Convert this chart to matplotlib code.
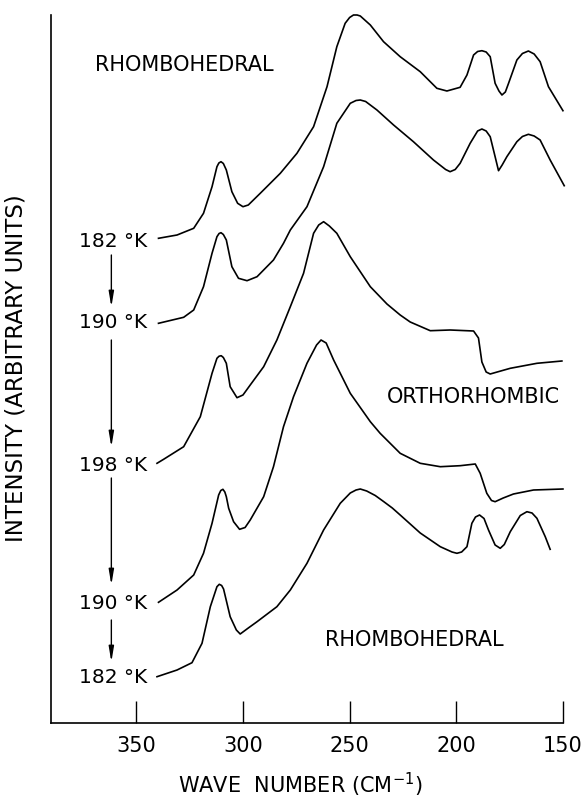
import numpy as np
import matplotlib
matplotlib.use('Agg')
import matplotlib.pyplot as plt

# Wave numbers (cm^-1) and stacked intensities (arbitrary units) for each trace
wn_182_top = [339.6, 330.9, 323.1, 318.5, 314.5, 312.2, 311.3, 310.3, 309.2, 307.8,
              305.2, 302.5, 300.0, 297.5, 291.9, 282.5, 274.7, 266.9, 260.6, 256.0,
              252.1, 250.0, 248.2, 246.5, 245.0, 240.3, 234.1, 226.3, 216.9, 209.1,
              204.4, 198.2, 195.0, 191.9, 190.0, 188.0, 186.0, 184.1, 181.8, 180.0,
              178.6, 177.0, 175.5, 171.6, 169.0, 166.2, 163.5, 160.7, 156.8, 150.0]
int_182_top = [484.7, 488.0, 494.7, 509.7, 536.3, 556.3, 560.0, 561.3, 559.5, 553.0,
               531.3, 519.7, 516.3, 518.0, 529.7, 549.7, 569.7, 596.3, 636.3, 676.3,
               699.7, 705.5, 708.0, 708.0, 707.0, 698.0, 681.3, 666.3, 651.3, 634.7,
               632.0, 635.7, 648.0, 668.0, 671.5, 672.3, 671.0, 666.3, 639.7, 632.0,
               628.0, 631.0, 639.7, 663.0, 669.5, 672.0, 669.0, 661.3, 636.3, 612.3]

wn_190_up = [339.6, 327.8, 323.1, 318.5, 314.5, 312.2, 311.2, 310.3, 309.2, 307.8,
             305.2, 302.1, 298.1, 293.4, 285.7, 281.0, 277.8, 270.0, 262.2, 256.0,
             249.7, 247.0, 245.0, 242.5, 237.2, 229.4, 220.1, 210.7, 205.0, 202.9,
             200.5, 198.2, 193.5, 190.0, 188.0, 186.0, 184.1, 181.8, 180.2, 178.5,
             176.3, 171.6, 169.0, 166.2, 163.5, 160.7, 156.0, 149.4]
int_190_up = [399.7, 405.7, 413.0, 436.3, 469.7, 486.3, 489.5, 490.3, 488.5, 483.0,
              456.3, 444.7, 442.3, 446.3, 463.0, 479.7, 493.0, 516.3, 556.3, 599.7,
              619.7, 622.5, 623.0, 621.5, 613.0, 598.0, 581.3, 563.0, 553.5, 551.3,
              553.5, 559.7, 579.7, 592.0, 594.0, 592.0, 586.3, 566.3, 552.3, 558.0,
              566.3, 581.3, 586.5, 588.7, 587.0, 583.0, 563.0, 537.3]

wn_198 = [340.3, 337.2, 327.8, 320.0, 314.5, 312.2, 311.2, 310.2, 309.2, 307.8,
          306.0, 302.8, 300.0, 296.6, 290.3, 284.1, 277.8, 271.6, 266.9, 264.5,
          262.2, 259.5, 256.0, 249.7, 240.3, 232.5, 226.3, 221.6, 212.2, 202.9,
          191.9, 189.6, 188.0, 186.0, 184.1, 180.0, 174.7, 162.2, 150.5]
int_198 = [259.7, 263.7, 276.3, 306.3, 349.7, 364.7, 366.8, 367.3, 365.5, 359.7,
           336.3, 325.3, 328.0, 338.0, 356.3, 383.0, 416.3, 449.7, 489.7, 498.0,
           501.3, 497.0, 489.7, 466.3, 436.3, 419.0, 408.0, 401.0, 392.3, 393.0,
           392.0, 385.0, 361.0, 351.0, 349.0, 351.5, 354.7, 359.7, 362.0]

wn_190_down = [339.6, 330.9, 323.1, 318.5, 314.5, 311.4, 310.4, 309.4, 308.5, 307.8,
               306.7, 304.4, 301.6, 299.0, 296.6, 290.3, 285.7, 281.0, 276.3, 270.0,
               265.5, 263.4, 261.0, 257.5, 249.7, 240.3, 235.7, 226.3, 216.9, 207.5,
               198.2, 191.1, 188.8, 185.7, 183.5, 181.8, 178.0, 173.2, 163.8, 150.0]
int_190_down = [120.7, 133.0, 148.0, 169.7, 199.7, 228.0, 232.5, 233.7, 231.0, 226.3,
                214.7, 201.3, 193.7, 195.5, 203.0, 226.3, 256.3, 296.3, 326.3, 359.7,
                378.0, 383.0, 380.0, 363.0, 329.7, 301.3, 289.7, 269.7, 259.7, 256.3,
                257.3, 259.0, 249.7, 229.7, 222.5, 221.3, 225.0, 229.0, 233.0, 234.0]

wn_182_down = [340.3, 330.9, 323.9, 319.2, 315.3, 312.2, 311.1, 310.0, 309.1, 306.0,
               303.1, 301.3, 297.5, 293.4, 284.1, 277.8, 270.0, 262.2, 254.4, 249.7,
               247.0, 245.0, 242.0, 238.0, 234.1, 230.0, 226.3, 216.9, 207.5, 202.0,
               199.7, 197.5, 195.0, 192.7, 191.0, 189.1, 187.0, 184.9, 181.8, 179.4,
               177.5, 174.7, 170.0, 166.9, 164.5, 162.2, 158.3, 156.0]
int_182_down = [46.3, 53.0, 60.3, 79.7, 116.3, 136.3, 138.7, 137.5, 134.0, 106.3,
                93.0, 89.0, 95.0, 101.3, 116.3, 133.0, 159.7, 193.0, 219.7, 230.0,
                233.0, 234.0, 232.0, 227.5, 221.5, 215.0, 208.0, 190.0, 176.3, 171.0,
                169.7, 171.0, 176.3, 199.7, 206.0, 208.0, 204.5, 193.0, 178.0, 174.7,
                178.5, 191.3, 207.5, 211.3, 210.0, 204.7, 186.3, 173.7]

traces = [(wn_182_top, int_182_top), (wn_190_up, int_190_up), (wn_198, int_198),
          (wn_190_down, int_190_down), (wn_182_down, int_182_down)]

temp_labels = ['182 °K', '190 °K', '198 °K', '190 °K', '182 °K']
temp_label_y = [481, 400, 258, 120, 46]
# arrows between successive temperatures (start, tip)
arrow_y = [(468, 416), (383, 276), (245, 138), (103, 61)]

fig = plt.figure(figsize=(5.88, 8.02), dpi=100)
ax = fig.add_axes([0.0867, 0.0985, 0.8707, 0.8828])

for wn, inten in traces:
    ax.plot(wn, inten, color='black', lw=1.2, clip_on=False,
            solid_joinstyle='round')

ax.set_xlim(390, 150)
ax.set_ylim(0, 708)

# phase labels
ax.text(369.2, 658, 'RHOMBOHEDRAL', fontsize=15, ha='left', va='center')
ax.text(232.4, 326, 'ORTHORHOMBIC', fontsize=15, ha='left', va='center')
ax.text(261.4, 83, 'RHOMBOHEDRAL', fontsize=15, ha='left', va='center')

# temperature labels and arrows
for lab, yy in zip(temp_labels, temp_label_y):
    ax.text(344.8, yy, lab, fontsize=14.5, ha='right', va='center')
for y0, y1 in arrow_y:
    ax.annotate('', xy=(361.7, y1), xytext=(361.7, y0),
                arrowprops=dict(arrowstyle='-|>,head_length=0.9,head_width=0.15',
                                color='black', lw=1.0, mutation_scale=10,
                                shrinkA=0, shrinkB=0))

ax.spines['top'].set_visible(False)
ax.spines['right'].set_visible(False)
ax.spines['left'].set_linewidth(1.2)
ax.spines['bottom'].set_linewidth(1.2)

ax.set_xticks([350, 300, 250, 200, 150])
ax.tick_params(axis='x', direction='in', length=16, width=1.0, pad=9, labelsize=15)
ax.set_yticks([])

ax.set_xlabel('WAVE  NUMBER (CM$^{-1}$)', fontsize=15)
ax.xaxis.set_label_coords(0.488, -0.068)
ax.set_ylabel('INTENSITY (ARBITRARY UNITS)', fontsize=16.5)
ax.yaxis.set_label_coords(-0.046, 0.501)

plt.savefig('out.png', dpi=100)
